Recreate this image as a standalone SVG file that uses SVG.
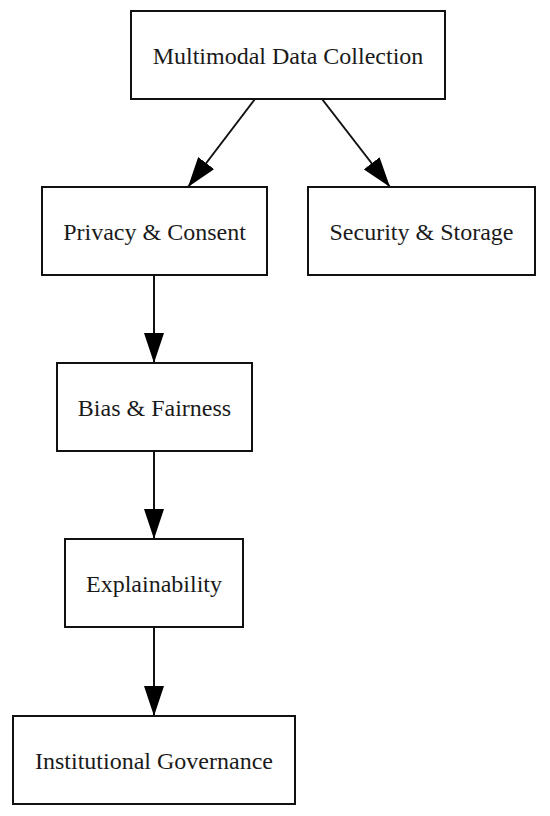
<svg xmlns="http://www.w3.org/2000/svg" width="550" height="816" viewBox="0 0 550 816">
<style>
.box{fill:#fff;stroke:#111;stroke-width:2}
.lbl{font-size:24px;fill:#1a1a1a;text-anchor:middle;dominant-baseline:central}
.edge{stroke:#111;stroke-width:2;fill:none}
</style>
<defs>
<marker id="ah" markerUnits="userSpaceOnUse" markerWidth="30" markerHeight="20" refX="30" refY="10" orient="auto">
<path d="M0,0 L30,10 L0,20 z" fill="#000"/>
</marker>
</defs>
<rect width="550" height="816" fill="#fff"/>
<g id="connectors">
<line class="edge" x1="255" y1="99" x2="188" y2="187" marker-end="url(#ah)"/>
<line class="edge" x1="322" y1="99" x2="390" y2="187" marker-end="url(#ah)"/>
<line class="edge" x1="154" y1="275" x2="154" y2="363" marker-end="url(#ah)"/>
<line class="edge" x1="154" y1="451" x2="154" y2="539" marker-end="url(#ah)"/>
<line class="edge" x1="154" y1="627" x2="154" y2="716" marker-end="url(#ah)"/>
</g>
<g id="n1"><rect class="box" x="131" y="11" width="314" height="88"/><text class="lbl" font-family="Liberation Serif, Times New Roman, serif" x="288" y="56">Multimodal Data Collection</text></g>
<g id="n2"><rect class="box" x="42" y="187" width="225" height="88"/><text class="lbl" font-family="Liberation Serif, Times New Roman, serif" x="154.5" y="232">Privacy &amp; Consent</text></g>
<g id="n3"><rect class="box" x="308" y="187" width="227" height="88"/><text class="lbl" font-family="Liberation Serif, Times New Roman, serif" x="421.5" y="232">Security &amp; Storage</text></g>
<g id="n4"><rect class="box" x="57" y="363" width="195" height="88"/><text class="lbl" font-family="Liberation Serif, Times New Roman, serif" x="154.5" y="408">Bias &amp; Fairness</text></g>
<g id="n5"><rect class="box" x="65" y="539" width="178" height="88"/><text class="lbl" font-family="Liberation Serif, Times New Roman, serif" x="154" y="584">Explainability</text></g>
<g id="n6"><rect class="box" x="13" y="716" width="282" height="88"/><text class="lbl" font-family="Liberation Serif, Times New Roman, serif" x="154" y="761">Institutional Governance</text></g>
</svg>
